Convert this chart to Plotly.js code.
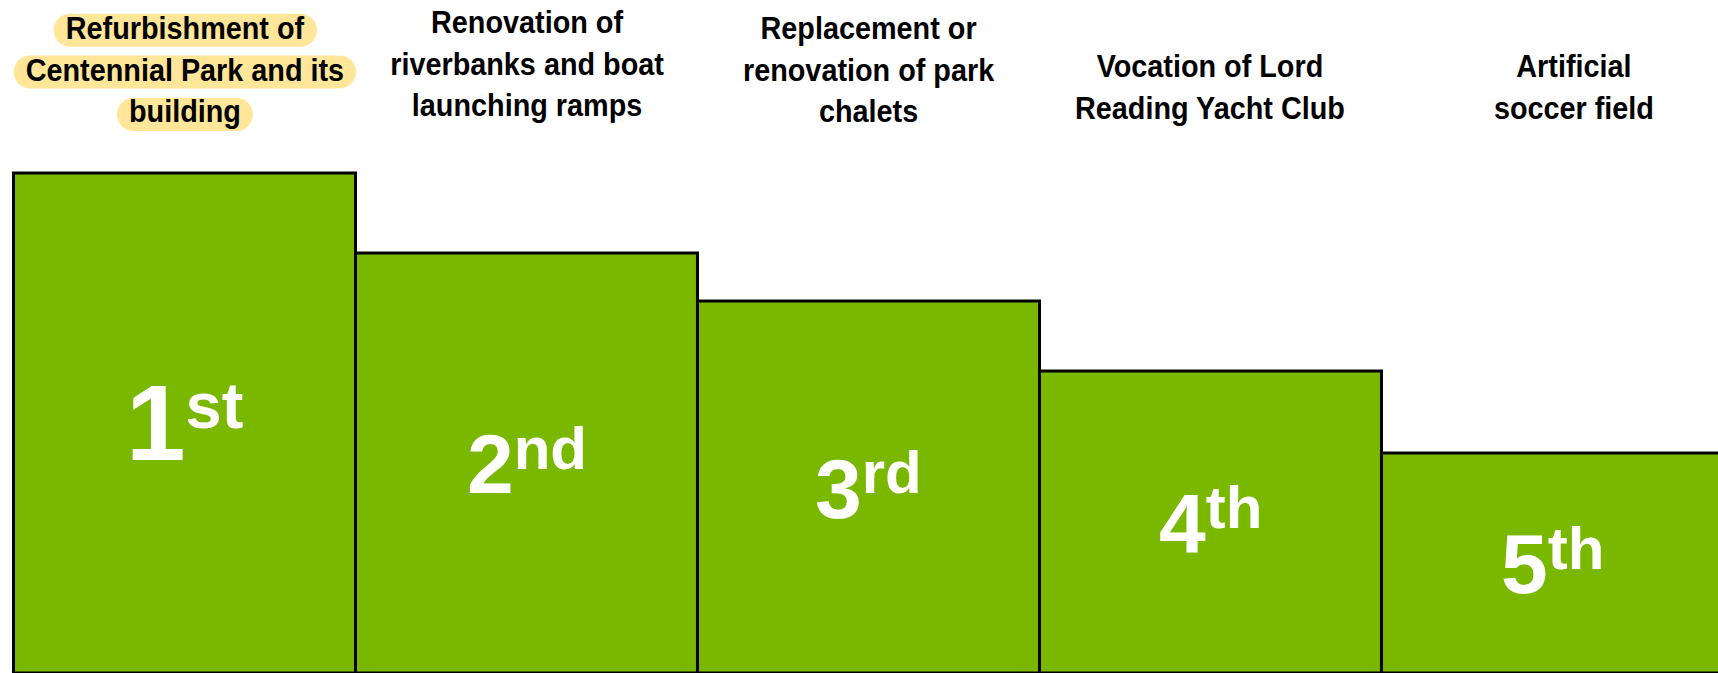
<!DOCTYPE html>
<html>
<head>
<meta charset="utf-8">
<script src="https://cdn.plot.ly/plotly-3.0.1.min.js"></script>
<style>
  html, body { margin: 0; padding: 0; background: #ffffff; }
  #chart { width: 1718px; height: 673px; }
</style>
</head>
<body>
<div id="chart"></div>
<script>
// ---- data ----
const categories = [
  "Refurbishment of<br>Centennial Park and its<br>building",
  "Renovation of<br>riverbanks and boat<br>launching ramps",
  "Replacement or<br>renovation of park<br>chalets",
  "Vocation of Lord<br>Reading Yacht Club",
  "Artificial<br>soccer field"
];
const scores = [500, 420, 372, 302, 220];
const rankNumbers = ["1", "2", "3", "4", "5"];
const rankSuffixes = ["st", "nd", "rd", "th", "th"];
const highlighted = [true, false, false, false, false];

// ---- styling ----
const barColor = "#7AB800";
const highlightColor = "#FFE699";
const labelFont = "Liberation Sans, Arial, sans-serif";
const labelSqueeze = 0.9;
const rankFont = "Liberation Sans, Arial, sans-serif";
const rankSizes = [107, 84, 84, 84, 84];
const supSizes = [65, 60, 60, 60, 60];
const supShift = [32, 24, 25, 25, 24];
const labelYShift = [0, 6, 0, 3, 3];
const labelXShift = [0, 0, 0, 0, 22];

const trace = {
  type: "bar",
  x: categories,
  y: scores,
  marker: { color: barColor, line: { color: "#000000", width: 3 } },
  hoverinfo: "skip"
};

const annotations = [];
categories.forEach((c, i) => {
  annotations.push({
    x: c, xref: "x",
    y: 1 - 131 / 673, yref: "paper",
    yanchor: "bottom", xanchor: "center",
    text: c, showarrow: false,
    align: "center",
    yshift: labelYShift[i], xshift: labelXShift[i],
    font: { family: labelFont, size: 32, color: "#000000", weight: "bold" }
  });
});
categories.forEach((c, i) => {
  annotations.push({
    x: c, xref: "x",
    y: scores[i] / 2, yref: "y",
    yanchor: "middle", xanchor: "center",
    text: rankNumbers[i] + '<span style="font-size:' + supSizes[i] + 'px;baseline-shift:' + supShift[i] + 'px">' + rankSuffixes[i] + '</span>',
    showarrow: false,
    font: { family: rankFont, size: rankSizes[i], color: "#ffffff", weight: "bold" }
  });
});

const layout = {
  width: 1718, height: 673,
  margin: { l: 0, r: 0, t: 0, b: 0, pad: 0 },
  paper_bgcolor: "#ffffff",
  plot_bgcolor: "rgba(0,0,0,0)",
  showlegend: false,
  bargap: 0,
  xaxis: { type: "category", range: [-0.5395, 4.484], visible: false, fixedrange: true },
  yaxis: { range: [0, 673], visible: false, fixedrange: true },
  annotations: annotations
};

const gd = document.getElementById("chart");

function squeezeLabels() {
  categories.forEach((c, i) => {
    const t = gd.querySelector('.annotation[data-index="' + i + '"] text.annotation-text');
    if (!t) return;
    const bb = t.getBBox();
    const cx = bb.x + bb.width / 2;
    t.setAttribute("transform", "translate(" + cx + ",0) scale(" + labelSqueeze + ",1) translate(" + (-cx) + ",0)");
  });
}

Plotly.newPlot(gd, [trace], layout, { displayModeBar: false, staticPlot: true }).then(() => {
  squeezeLabels();
  const size = gd._fullLayout._size;
  const gdRect = gd.getBoundingClientRect();
  const toPaperX = px => (px - size.l) / size.w;
  const toPaperY = py => 1 - (py - size.t) / size.h;
  const shapes = [];
  const k = 0.5523;
  highlighted.forEach((h, i) => {
    if (!h) return;
    const g = gd.querySelector('.annotation[data-index="' + i + '"]');
    if (!g) return;
    const lines = g.querySelectorAll("tspan.line");
    const els = lines.length ? lines : g.querySelectorAll("text");
    els.forEach(el => {
      const r0 = el.getBoundingClientRect();
      const x0 = r0.left - gdRect.left - 12;
      const x1 = r0.right - gdRect.left + 12;
      const cyPix = r0.bottom - gdRect.top - 15;
      const hh = 16.5;
      const yt = cyPix - hh, yb = cyPix + hh, r = hh, cy = cyPix;
      const P = (x, y) => toPaperX(x).toFixed(6) + "," + toPaperY(y).toFixed(6);
      const path = "M" + P(x0 + r, yt) +
        " L" + P(x1 - r, yt) +
        " C" + P(x1 - r + k * r, yt) + " " + P(x1, cy - k * r) + " " + P(x1, cy) +
        " C" + P(x1, cy + k * r) + " " + P(x1 - r + k * r, yb) + " " + P(x1 - r, yb) +
        " L" + P(x0 + r, yb) +
        " C" + P(x0 + r - k * r, yb) + " " + P(x0, cy + k * r) + " " + P(x0, cy) +
        " C" + P(x0, cy - k * r) + " " + P(x0 + r - k * r, yt) + " " + P(x0 + r, yt) + " Z";
      shapes.push({
        type: "path", xref: "paper", yref: "paper", path: path,
        fillcolor: highlightColor, line: { width: 0 }, layer: "below"
      });
    });
  });
  return Plotly.relayout(gd, { shapes: shapes });
}).then(() => {
  squeezeLabels();
});
</script>
</body>
</html>
